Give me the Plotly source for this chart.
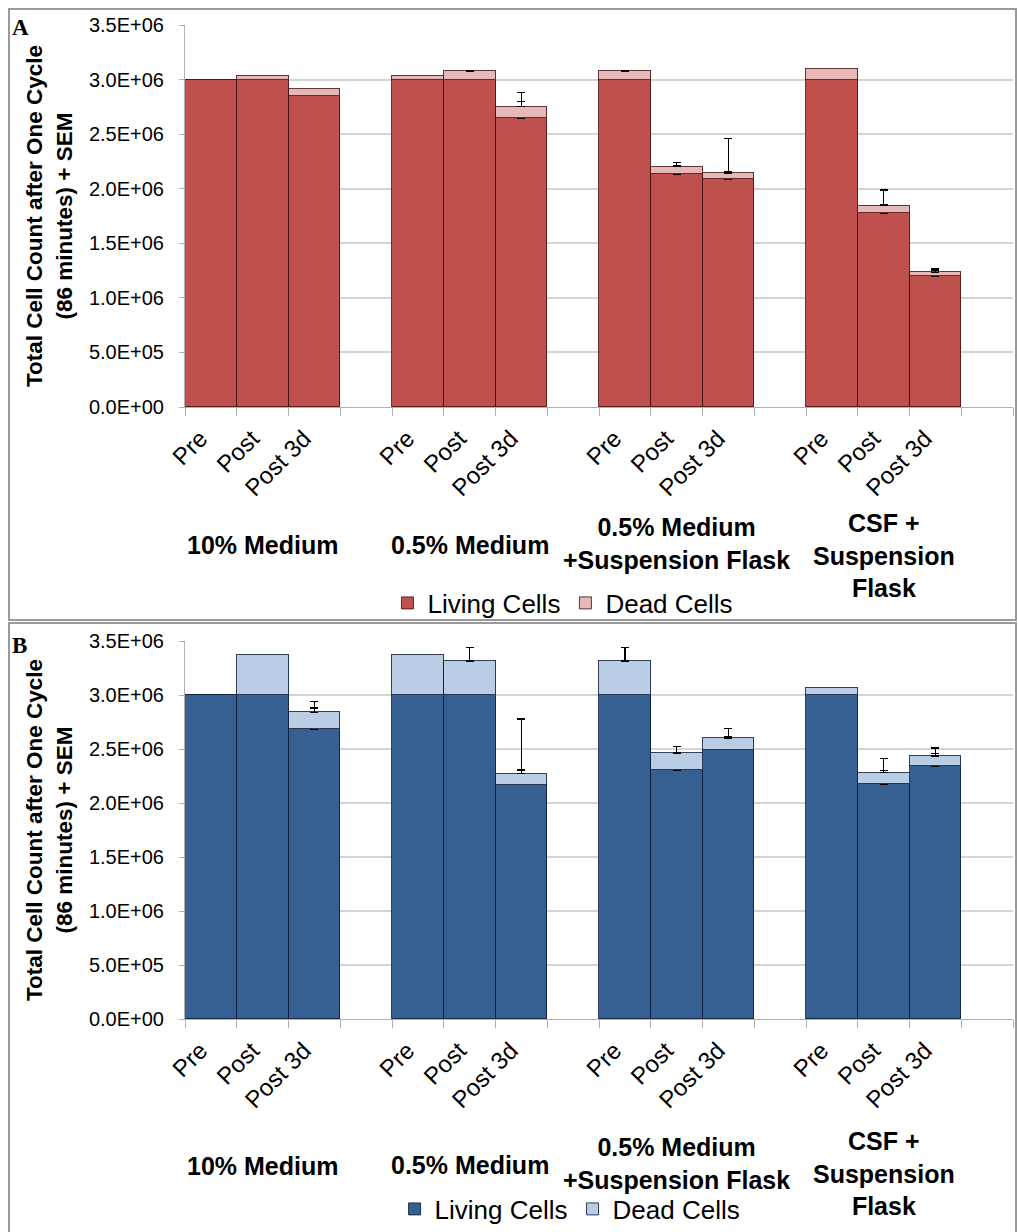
import numpy as np
import plotly.graph_objects as go

# ---------------- data ----------------
groups = ["10% Medium", "0.5% Medium", "0.5% Medium<br>+Suspension Flask", "CSF +<br>Suspension<br>Flask"]
timepoints = ["Pre", "Post", "Post 3d"]
series_names = ["Living Cells", "Dead Cells"]

y_tickvals = [0, 5e5, 1.0e6, 1.5e6, 2.0e6, 2.5e6, 3.0e6, 3.5e6]
y_ticktext = ["0.0E+00", "5.0E+05", "1.0E+06", "1.5E+06", "2.0E+06", "2.5E+06", "3.0E+06", "3.5E+06"]

# Panel A (red)
a_living = [3.000e6, 3.000e6, 2.852e6, 3.000e6, 3.000e6, 2.645e6, 3.000e6, 2.135e6, 2.089e6, 3.000e6, 1.775e6, 1.200e6]
a_dead = [0.000e6, 0.033e6, 0.062e6, 0.033e6, 0.079e6, 0.107e6, 0.079e6, 0.067e6, 0.055e6, 0.094e6, 0.070e6, 0.034e6]
a_living_sem = [None, None, None, None, None, 0.152e6, None, 0.073e6, 0.064e6, None, 0.079e6, 0.055e6]
a_dead_sem = [None, None, None, None, 0.004e6, 0.131e6, 0.004e6, 0.040e6, 0.318e6, None, 0.141e6, 0.037e6]

# Panel B (blue)
b_living = [3.000e6, 3.000e6, 2.683e6, 3.000e6, 3.000e6, 2.171e6, 3.000e6, 2.303e6, 2.495e6, 3.000e6, 2.174e6, 2.343e6]
b_dead = [0.000e6, 0.367e6, 0.157e6, 0.367e6, 0.315e6, 0.102e6, 0.315e6, 0.161e6, 0.107e6, 0.062e6, 0.108e6, 0.090e6]
b_living_sem = [None, None, 0.197e6, None, None, 0.135e6, None, 0.220e6, 0.123e6, None, 0.129e6, 0.115e6]
b_dead_sem = [None, None, 0.102e6, None, 0.123e6, 0.505e6, 0.126e6, 0.059e6, 0.087e6, None, 0.130e6, 0.077e6]

# ---------------- styling ----------------
W, H = 1018, 1232
FONT = "Liberation Sans, Arial, sans-serif"
A_COLORS = ["#C0504D", "#E6B9B8"]
B_COLORS = ["#376092", "#B9CDE5"]
A_EDGE = "rgba(70,20,20,0.85)"
B_EDGE = "rgba(15,30,60,0.85)"
GRID = "#D4D4D4"
AXIS = "#B0B0B0"

# category slot positions (3 bars per group, one empty slot between groups)
xpos = [g * 4 + t for g in range(len(groups)) for t in range(len(timepoints))]
xtext = [timepoints[t] for g in range(len(groups)) for t in range(len(timepoints))]
label_pos = [p - 0.2 for p in xpos]
boundaries = [i - 0.5 for i in range(17)]


def err(sem):
    plus = np.array([np.nan if v is None else v for v in sem], dtype=float)
    minus = np.where(np.isnan(plus), np.nan, 0.0)
    return dict(type="data", symmetric=False, array=plus, arrayminus=minus,
                color="black", thickness=1.5, width=4)


fig = go.Figure()

panels = [
    ("x", "y", "legend", a_living, a_dead, a_living_sem, a_dead_sem, A_COLORS, A_EDGE),
    ("x2", "y2", "legend2", b_living, b_dead, b_living_sem, b_dead_sem, B_COLORS, B_EDGE),
]
for xa, ya, lg, living, dead, lsem, dsem, cols, edge in panels:
    for name, vals, sem, col in [(series_names[0], living, lsem, cols[0]),
                                 (series_names[1], dead, dsem, cols[1])]:
        fig.add_trace(go.Bar(
            x=xpos, y=vals, name=name, xaxis=xa, yaxis=ya, legend=lg,
            width=1.0, marker=dict(color=col, line=dict(color=edge, width=1)),
            error_y=err(sem), hoverinfo="skip",
        ))

xdom = [185 / W, 1013 / W]
yA = [1 - 407 / H, 1 - 25 / H]
yB = [1 - 1019 / H, 1 - 641 / H]


def xaxis_cfg(anchor):
    return dict(domain=xdom, anchor=anchor, range=[-0.5, 15.5], automargin=False,
                tickmode="array", tickvals=label_pos, ticktext=xtext, tickangle=-45,
                ticks="", ticklabelstandoff=7,
                tickfont=dict(family=FONT, size=24, color="black"),
                showline=True, linecolor=AXIS, linewidth=1, showgrid=False, zeroline=False,
                minor=dict(tickmode="array", tickvals=boundaries, ticks="outside",
                           ticklen=8, tickcolor=AXIS, tickwidth=1, showgrid=False))


def yaxis_cfg(anchor, dom):
    return dict(domain=dom, anchor=anchor, range=[0, 3.5e6], automargin=False,
                tickmode="array", tickvals=y_tickvals, ticktext=y_ticktext,
                ticks="outside", ticklen=5, tickcolor=AXIS, ticklabelstandoff=11,
                tickfont=dict(family=FONT, size=20, color="black"),
                showline=True, linecolor=AXIS, linewidth=1,
                showgrid=True, gridcolor=GRID, gridwidth=1.5, zeroline=False,
                title=dict(text="Total Cell Count after One Cycle<br>(86 minutes) + SEM",
                           font=dict(family=FONT, size=22.5, color="black", weight="bold"),
                           standoff=10))


def legend_cfg(xc, yc):
    return dict(orientation="h", x=xc, xanchor="center", y=yc, yanchor="middle",
                font=dict(family=FONT, size=26, color="black"),
                bgcolor="rgba(0,0,0,0)", traceorder="normal", itemwidth=30)


annotations = []
group_y = {
    "A": [545, 545, 543, 555],
    "B": [1166, 1165, 1163, 1173],
}
for key, xref in [("A", "x"), ("B", "x2")]:
    for g, label in enumerate(groups):
        annotations.append(dict(
            text=label, xref=xref, yref="paper", x=g * 4 + 1, y=1 - group_y[key][g] / H,
            xanchor="center", yanchor="middle", showarrow=False, align="center",
            font=dict(family=FONT, size=25, color="black", weight="bold")))
for letter, yy in [("A", 28), ("B", 645)]:
    annotations.append(dict(
        text=letter, xref="paper", yref="paper", x=10 / W, y=1 - yy / H,
        xanchor="left", yanchor="middle", showarrow=False,
        font=dict(family="Liberation Serif, Times New Roman, serif", size=23, color="black", weight="bold")))

shapes = [
    dict(type="rect", xref="paper", yref="paper", x0=9 / W, x1=1016 / W, y0=1 - 620 / H, y1=1 - 9 / H,
         line=dict(color="#9A9A9A", width=2), fillcolor="rgba(0,0,0,0)", layer="below"),
    dict(type="rect", xref="paper", yref="paper", x0=9 / W, x1=1016 / W, y0=-0.01, y1=1 - 623 / H,
         line=dict(color="#9A9A9A", width=2), fillcolor="rgba(0,0,0,0)", layer="below"),
]

fig.update_layout(
    template="none",
    width=W, height=H, margin=dict(l=0, r=0, t=0, b=0, pad=0, autoexpand=False),
    paper_bgcolor="white", plot_bgcolor="white",
    barmode="stack", bargap=0,
    xaxis=xaxis_cfg("y"), yaxis=yaxis_cfg("x", yA),
    xaxis2=xaxis_cfg("y2"), yaxis2=yaxis_cfg("x2", yB),
    legend=legend_cfg(0.553, 1 - 603 / H), legend2=legend_cfg(0.56, 1 - 1209 / H),
    annotations=annotations, shapes=shapes,
    font=dict(family=FONT, color="black"),
)

fig.write_html("out.html")
